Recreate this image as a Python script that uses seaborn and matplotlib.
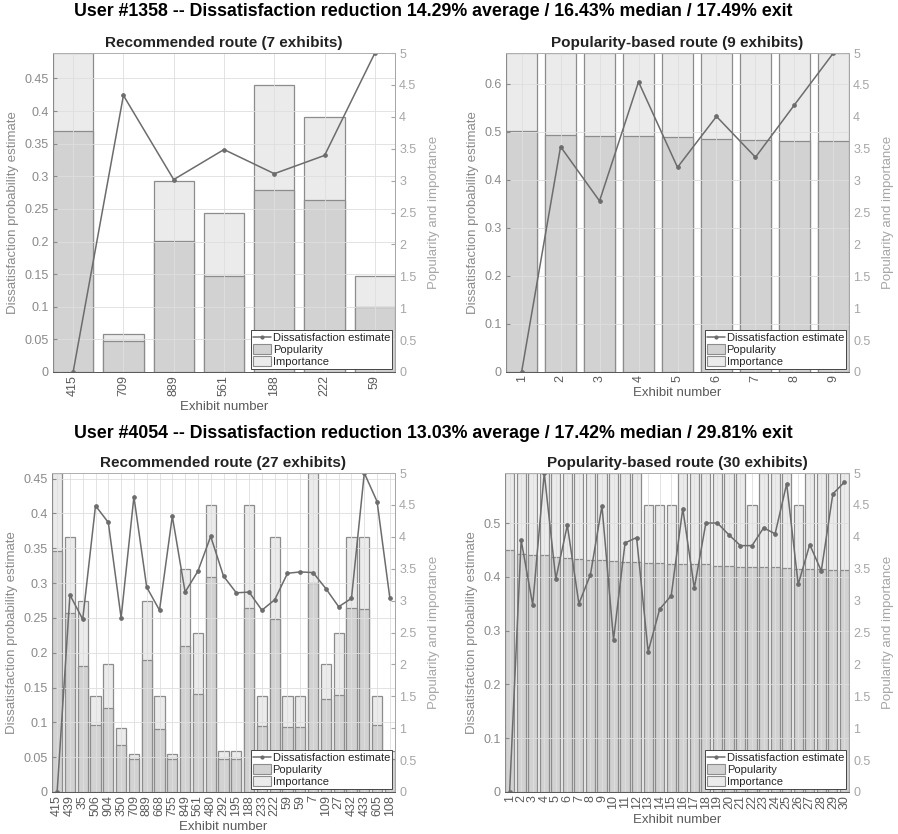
import numpy as np
import matplotlib
matplotlib.use("Agg")
import matplotlib.pyplot as plt
import seaborn as sns
from matplotlib.lines import Line2D
from matplotlib.patches import Patch
from matplotlib.ticker import MultipleLocator, FuncFormatter

sns.set_style("white")
plt.rcParams["font.family"] = ["Liberation Sans", "DejaVu Sans"]

# ---- User #1358, recommended route ----
rec1_labels = ["415", "709", "889", "561", "188", "222", "59"]
rec1_dissat = [0.0, 0.424, 0.295, 0.341, 0.304, 0.332, 0.489]
rec1_pop = [3.77, 0.48, 2.06, 1.51, 2.86, 2.70, 1.02]
rec1_imp = [1.23, 0.11, 0.93, 0.99, 1.64, 1.30, 0.48]

# ---- User #1358, popularity-based route ----
pop1_labels = [str(i) for i in range(1, 10)]
pop1_dissat = [0.0, 0.469, 0.356, 0.604, 0.426, 0.532, 0.447, 0.556, 0.664]
pop1_pop = [3.77, 3.71, 3.70, 3.70, 3.68, 3.65, 3.63, 3.62, 3.62]
pop1_imp = [1.23, 1.29, 1.30, 1.30, 1.32, 1.35, 1.37, 1.38, 1.38]

# ---- User #4054, recommended route ----
rec2_labels = ["415", "439", "35", "506", "904", "350", "709", "889", "668",
               "755", "849", "561", "480", "292", "195", "188", "233", "222",
               "59", "59", "7", "109", "27", "432", "433", "605", "108"]
rec2_dissat = [0.0, 0.283, 0.248, 0.411, 0.387, 0.250, 0.424, 0.294, 0.261,
               0.396, 0.287, 0.317, 0.367, 0.310, 0.286, 0.287, 0.261, 0.276,
               0.314, 0.316, 0.315, 0.292, 0.266, 0.278, 0.458, 0.417, 0.278]
rec2_pop = [3.78, 2.80, 1.98, 1.05, 1.31, 0.73, 0.51, 2.07, 0.99,
            0.51, 2.29, 1.54, 3.37, 0.51, 0.51, 2.88, 1.04, 2.71,
            1.02, 1.02, 3.28, 1.46, 1.52, 2.88, 2.87, 1.05, 0.51]
rec2_imp = [1.22, 1.20, 1.02, 0.45, 0.69, 0.27, 0.09, 0.93, 0.51,
            0.09, 1.21, 0.96, 1.13, 0.14, 0.14, 1.62, 0.46, 1.29,
            0.48, 0.48, 1.72, 0.54, 0.98, 1.12, 1.13, 0.45, 0.14]

# ---- User #4054, popularity-based route ----
pop2_labels = [str(i) for i in range(1, 31)]
pop2_dissat = [0.0, 0.468, 0.348, 0.593, 0.396, 0.496, 0.350, 0.404, 0.532, 0.283,
               0.463, 0.473, 0.261, 0.340, 0.365, 0.527, 0.379, 0.500, 0.500, 0.478,
               0.458, 0.458, 0.491, 0.480, 0.573, 0.386, 0.460, 0.411, 0.554, 0.576]
pop2_pop = [3.79, 3.73, 3.72, 3.72, 3.69, 3.67, 3.65, 3.64, 3.63, 3.62,
            3.61, 3.61, 3.59, 3.59, 3.58, 3.58, 3.57, 3.57, 3.55, 3.55,
            3.53, 3.53, 3.52, 3.52, 3.51, 3.50, 3.50, 3.49, 3.48, 3.48]
pop2_imp = [1.21, 1.27, 1.28, 1.28, 1.31, 1.33, 1.35, 1.36, 1.37, 1.38,
            1.39, 1.39, 0.91, 0.91, 0.92, 1.42, 1.43, 1.43, 1.45, 1.45,
            1.47, 0.97, 1.48, 1.48, 1.49, 1.00, 1.50, 1.51, 1.52, 1.52]

titles = [
    "User #1358 -- Dissatisfaction reduction 14.29% average / 16.43% median / 17.49% exit",
    "User #4054 -- Dissatisfaction reduction 13.03% average / 17.42% median / 29.81% exit",
]

POP_C = "#d2d2d2"
IMP_C = "#ebebeb"
EDGE_C = "#8c8c8c"
LINE_C = "#6c6c6c"
LEFT_C = "#8a8a8a"
RIGHT_C = "#a6a6a6"
X_C = "#5a5a5a"
GRID_C = "#dedede"

W, H = 898, 834
fig = plt.figure(figsize=(W / 100, H / 100), dpi=100)
fig.patch.set_facecolor("white")


def px_rect(left, right, top, bottom):
    return [left / W, 1 - bottom / H, (right - left) / W, (bottom - top) / H]


def fmt(v, _):
    return f"{v:g}"


def panel(rect, title, labels, dissat, pop, imp, ystep):
    ax = fig.add_axes(rect)
    tw = ax.twinx()
    n = len(labels)
    pos = np.arange(n)
    pop = np.asarray(pop)
    total = pop + np.asarray(imp)

    # stacked bars: total (importance on top) then popularity over it
    sns.barplot(x=pos, y=total, ax=tw, native_scale=True, color=IMP_C,
                edgecolor=EDGE_C, linewidth=0.9, width=0.8, saturation=1,
                errorbar=None)
    sns.barplot(x=pos, y=pop, ax=tw, native_scale=True, color=POP_C,
                edgecolor=EDGE_C, linewidth=0.9, width=0.8, saturation=1,
                errorbar=None)

    # line axis sits above the bar axis
    ax.set_zorder(tw.get_zorder() + 1)
    ax.patch.set_visible(False)
    sns.lineplot(x=pos, y=dissat, ax=ax, color=LINE_C, linewidth=1.1,
                 marker="o", markersize=2.6, markeredgecolor=LINE_C)

    ax.set_xlim(-0.4, n - 0.6)
    ax.set_ylim(0, max(dissat))
    tw.set_ylim(0, 5)

    ax.set_xticks(pos)
    ax.set_xticklabels(labels, rotation=90)
    ax.yaxis.set_major_locator(MultipleLocator(ystep))
    ax.yaxis.set_major_formatter(FuncFormatter(fmt))
    tw.yaxis.set_major_locator(MultipleLocator(0.5))
    tw.yaxis.set_major_formatter(FuncFormatter(fmt))

    ax.set_axisbelow(True)
    ax.grid(True, color=GRID_C, linewidth=0.6)
    tw.grid(False)

    ax.tick_params(axis="y", colors=LEFT_C, labelcolor=LEFT_C, direction="in",
                   length=3, labelsize=9, pad=3)
    tw.tick_params(axis="y", colors=RIGHT_C, labelcolor=RIGHT_C, direction="in",
                   length=3, labelsize=9, pad=3)
    ax.tick_params(axis="x", colors=X_C, labelcolor=X_C, direction="in",
                   length=3, labelsize=9, pad=2)

    for a in (ax, tw):
        a.spines["left"].set_color(LEFT_C)
        a.spines["right"].set_color(RIGHT_C)
        a.spines["bottom"].set_color(X_C)
        a.spines["top"].set_color("#b0b0b0")
        for s in a.spines.values():
            s.set_linewidth(0.7)

    ax.set_xlabel("Exhibit number", color=X_C, fontsize=9.5, labelpad=4)
    ax.set_ylabel("Dissatisfaction probability estimate", color=LEFT_C,
                  fontsize=9.5, labelpad=4)
    tw.set_ylabel("Popularity and importance", color=RIGHT_C, fontsize=9.5,
                  labelpad=8)
    ax.set_title(title, fontweight="bold", fontsize=11, color="#222222", pad=4)

    handles = [
        Line2D([], [], color=LINE_C, linewidth=1.1, marker="o", markersize=2),
        Patch(facecolor=POP_C, edgecolor=EDGE_C, linewidth=0.8),
        Patch(facecolor=IMP_C, edgecolor=EDGE_C, linewidth=0.8),
    ]
    leg = ax.legend(handles, ["Dissatisfaction estimate", "Popularity", "Importance"],
                    loc="lower right", fontsize=8, frameon=True, fancybox=False,
                    framealpha=1, edgecolor="#444444", borderaxespad=0.25,
                    handlelength=1.6, handleheight=1.0, handletextpad=0.15,
                    labelspacing=0.1, borderpad=0.2)
    leg.get_frame().set_linewidth(0.7)
    return ax


panel(px_rect(53, 395, 53, 372), "Recommended route (7 exhibits)",
      rec1_labels, rec1_dissat, rec1_pop, rec1_imp, 0.05)
panel(px_rect(506, 849, 53, 372), "Popularity-based route (9 exhibits)",
      pop1_labels, pop1_dissat, pop1_pop, pop1_imp, 0.1)
panel(px_rect(52, 395, 473, 792), "Recommended route (27 exhibits)",
      rec2_labels, rec2_dissat, rec2_pop, rec2_imp, 0.05)
panel(px_rect(505, 849, 473, 792), "Popularity-based route (30 exhibits)",
      pop2_labels, pop2_dissat, pop2_pop, pop2_imp, 0.1)

fig.text(0.483, 1 - 12 / H, titles[0], ha="center", va="center",
         fontweight="bold", fontsize=12.8, color="black")
fig.text(0.483, 1 - 433 / H, titles[1], ha="center", va="center",
         fontweight="bold", fontsize=12.8, color="black")

fig.savefig("out.png", dpi=100, facecolor="white")
